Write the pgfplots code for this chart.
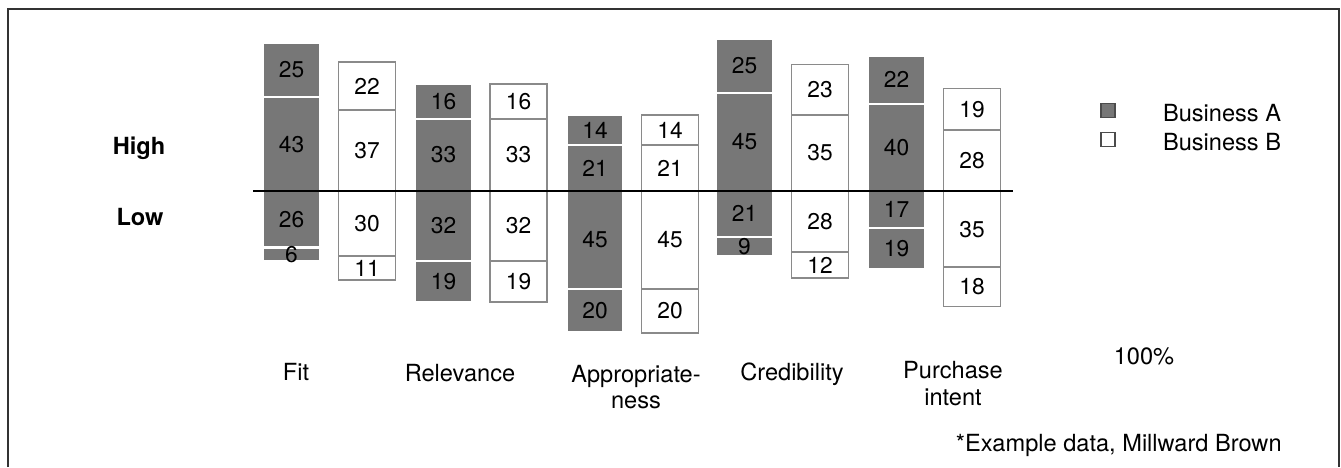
\documentclass[border=0pt]{standalone}
\usepackage{pgfplots}
\pgfplotsset{compat=1.18}
\usepackage{pgfplotstable}
\usepackage{fontspec}
\setmainfont{TeX Gyre Heros}

\definecolor{barA}{HTML}{777777}
\definecolor{edgeB}{HTML}{8A8A8A}
\newcommand\numfont{\fontsize{11.4pt}{13pt}\selectfont}
\newcommand\lblfont{\fontsize{11.8pt}{13pt}\selectfont}

% x = bar centre in pixel units (1 px = 0.5pt), values in percent
\pgfplotstableread{
x     hi1 hi2 lo1 lo2
291.5 43  25  26  6
443.5 33  16  32  19
595   21  14  45  20
744.5 45  25  21  9
896.5 40  22  17  19
}\businessA
\pgfplotstableread{
x     hi1 hi2 lo1 lo2
367   37  22  30  11
518.5 33  16  32  19
670   21  14  45  20
820   35  23  28  12
972   28  19  35  18
}\businessB

\pgfplotsset{
  frame/.style={at={(0pt,0pt)}, anchor=south west, scale only axis,
    width=670.5pt, height=233.5pt, xmin=0, xmax=1341,
    ymin=-126.606, ymax=87.615, hide axis, clip=false},
  layer/.style={frame,
    ybar stacked, bar width=57,
    point meta=explicit,
    /pgf/number format/assume math mode=true,
    nodes near coords={\pgfmathprintnumber[fixed,precision=0]{\pgfplotspointmeta}},
    every node near coord/.append style={font=\numfont, text=black, inner sep=0pt,
      anchor=center}},
  segA/.style={fill=barA, draw=white, line width=1.2pt},
  segB/.style={fill=white, draw=edgeB, line width=0.9pt},
}

\begin{document}
\begin{tikzpicture}
\useasboundingbox (0pt,0pt) rectangle (670.5pt,233.5pt);

% Business A, high
\begin{axis}[layer]
\addplot[segA] table[x=x, y=hi1, meta=hi1] {\businessA};
\addplot[segA] table[x=x, y=hi2, meta=hi2] {\businessA};
\end{axis}
% Business A, low
\begin{axis}[layer]
\addplot[segA] table[x=x, y expr=-\thisrow{lo1}, meta=lo1] {\businessA};
\addplot[segA] table[x=x, y expr=-\thisrow{lo2}, meta=lo2] {\businessA};
\end{axis}
% Business B, high
\begin{axis}[layer]
\addplot[segB] table[x=x, y=hi1, meta=hi1] {\businessB};
\addplot[segB] table[x=x, y=hi2, meta=hi2] {\businessB};
\end{axis}
% Business B, low
\begin{axis}[layer]
\addplot[segB] table[x=x, y expr=-\thisrow{lo1}, meta=lo1] {\businessB};
\addplot[segB] table[x=x, y expr=-\thisrow{lo2}, meta=lo2] {\businessB};
\end{axis}
% legend
\begin{axis}[frame,
  legend style={at={(0.8203,0.7837)}, anchor=north west, draw=none,
    inner sep=0pt, row sep=0.5pt, font=\lblfont,
    nodes={inner sep=1.5pt, text height=8.5pt, text depth=2.5pt}},
  legend cell align=left,
  legend image code/.code={%
    \filldraw[#1] (0pt,-1pt) rectangle (7pt,6pt);
    \path[draw=none, fill=none] (0pt,0pt) (29.5pt,0pt);}]
\addlegendimage{fill=barA, draw=black!70, line width=0.6pt}
\addlegendentry{Business A}
\addlegendimage{fill=white, draw=black!70, line width=0.6pt}
\addlegendentry{Business B}
\end{axis}

\begin{scope}[shift={(0pt,233.5pt)}, x=0.5pt, y=-0.5pt]
\draw[black!80, line width=1pt] (8,467) -- (8,9.5) -- (1338.5,9.5) -- (1338.5,467);
\draw[black, line width=1pt] (253,191) -- (1013,191);
\node[font=\lblfont\bfseries, anchor=base] at (139,154) {High};
\node[font=\lblfont\bfseries, anchor=base] at (140,225) {Low};
\node[font=\lblfont, anchor=base] at (296,380) {Fit};
\node[font=\lblfont, anchor=base] at (460,381) {Relevance};
\node[font=\lblfont, anchor=base] at (636,382) {Appropriate-};
\node[font=\lblfont, anchor=base] at (636,408) {ness};
\node[font=\lblfont, anchor=base] at (792,380) {Credibility};
\node[font=\lblfont, anchor=base] at (953,378) {Purchase};
\node[font=\lblfont, anchor=base] at (953,405) {intent};
\node[font=\lblfont, anchor=base] at (1144,364) {100\%};
\node[font=\lblfont, anchor=base east, inner sep=0pt] at (1282,451) {*Example data, Millward Brown};
\end{scope}
\end{tikzpicture}
\end{document}
